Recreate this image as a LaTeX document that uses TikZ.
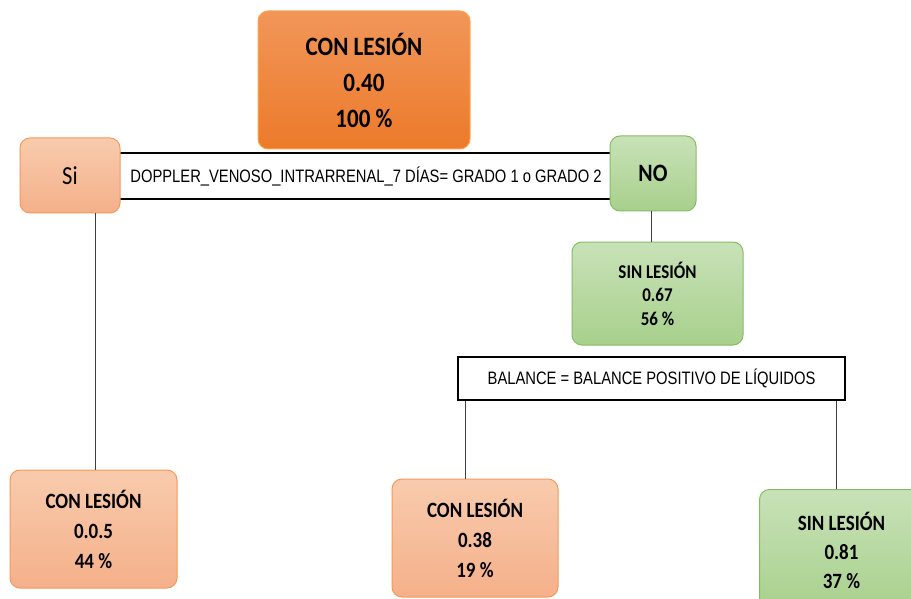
\documentclass[tikz,border=0pt]{standalone}
\usepackage{fontspec}
\setmainfont{Carlito}
\newfontfamily\boxfont[FakeStretch=0.87]{Carlito}
\newfontfamily\narrowfont[FakeStretch=0.82]{Liberation Sans}
\begin{document}
\begin{tikzpicture}[x=1pt,y=-1pt,
  box/.style={draw, rounded corners=10pt, line width=1pt, align=center, inner sep=0pt},
  orangebox/.style={box, draw=orange!70!white, top color=topor, bottom color=botor},
  salmonbox/.style={box, draw=salbd, top color=saltop, bottom color=salbot},
  greenbox/.style={box, draw=grbd, top color=grtop, bottom color=grbot},
  cond/.style={draw=black, line width=1.6pt, fill=white, inner sep=0pt},
  conn/.style={draw=black!75, line width=0.8pt}
]
\definecolor{topor}{HTML}{F19659}
\definecolor{botor}{HTML}{EC7A2A}
\definecolor{saltop}{HTML}{F8CBAD}
\definecolor{salbot}{HTML}{F5B08A}
\definecolor{salbd}{HTML}{F39A5A}
\definecolor{grtop}{HTML}{C8E2B8}
\definecolor{grbot}{HTML}{A8D08C}
\definecolor{grbd}{HTML}{86BC62}
\path[use as bounding box, clip] (0,0) rectangle (911,599);

% condition band (behind Si / NO)
\node[cond, minimum width=500pt, minimum height=46pt, font=\narrowfont\fontsize{18}{20}\selectfont] (band) at (365,176)
  {\hspace*{2pt}DOPPLER\_VENOSO\_INTRARRENAL\_7 DÍAS= GRADO 1 o GRADO 2};

\node[orangebox, minimum width=212pt, minimum height=138pt, font=\boxfont\bfseries\fontsize{26.5}{36}\selectfont] (root) at (364,80)
  {CON LESIÓN\\0.40\\100 \%};

\node[salmonbox, font=\boxfont\fontsize{26}{28}\selectfont, minimum width=100pt, minimum height=75pt] (si) at (70,175.5) {Si};
\node[greenbox, font=\boxfont\bfseries\fontsize{25}{28}\selectfont, minimum width=86pt, minimum height=75pt] (no) at (653,173.5) {NO};

\node[greenbox, minimum width=171pt, minimum height=103pt, font=\boxfont\bfseries\fontsize{19.5}{23.5}\selectfont] (sl) at (657.5,293.5)
  {SIN LESIÓN\\0.67\\56 \%};

\node[cond, minimum width=387pt, minimum height=43pt, line width=1.5pt, font=\narrowfont\fontsize{18}{20}\selectfont] (bal) at (651.5,378.5)
  {BALANCE = BALANCE POSITIVO DE LÍQUIDOS};

\node[salmonbox, minimum width=167pt, minimum height=118pt, font=\boxfont\bfseries\fontsize{21.8}{30}\selectfont] (bl) at (93.5,529)
  {CON LESIÓN\\0.0.5\\44 \%};
\node[salmonbox, minimum width=166pt, minimum height=118pt, font=\boxfont\bfseries\fontsize{21.8}{30}\selectfont] (bm) at (475,538)
  {CON LESIÓN\\0.38\\19 \%};
\node[greenbox, minimum width=164pt, minimum height=122pt, font=\boxfont\bfseries\fontsize{21.8}{29}\selectfont, anchor=north west] (br) at (759,489)
  {SIN LESIÓN\\0.81\\37 \%};

% connectors
\draw[conn] ([xshift=1.5pt]bl.north) -- ([xshift=1.5pt]bl.north |- si.south);
\draw[conn] ([xshift=-2pt]no.south) -- ([xshift=-2pt]no.south |- sl.north);
\draw[conn] ([xshift=-10pt]bm.north) -- ([xshift=-10pt]bm.north |- bal.south);
\draw[conn] ([xshift=-5pt]br.north) -- ([xshift=-5pt]br.north |- bal.south);
\end{tikzpicture}
\end{document}
